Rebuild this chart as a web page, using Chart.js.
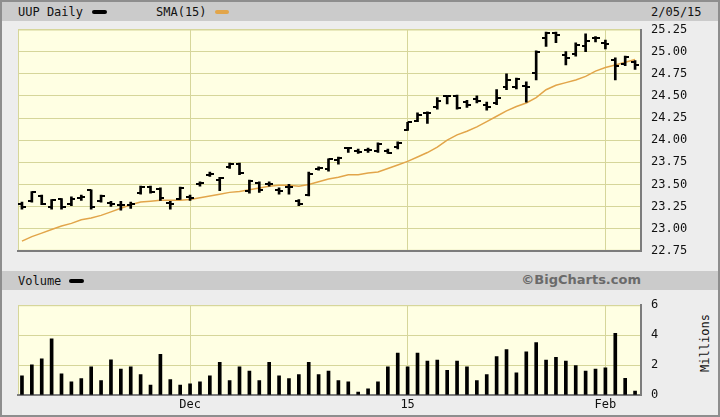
<!DOCTYPE html>
<html><head><meta charset="utf-8">
<script src="https://cdn.jsdelivr.net/npm/chart.js@4.4.1/dist/chart.umd.min.js"></script>
<style>
html,body{margin:0;padding:0;}
body{width:720px;height:417px;overflow:hidden;position:relative;background:#ededed;font-family:"DejaVu Sans Mono",monospace;font-size:12px;color:#111;}
#frame{position:absolute;left:0;top:0;width:716px;height:413px;border:2px solid #8e8e8e;}
.band{position:absolute;left:2px;width:716px;height:19px;background:#cbcbcb;}
.t{position:absolute;white-space:nowrap;line-height:14px;}
.sw{position:absolute;height:4px;border-radius:2px;}
canvas{position:absolute;left:0;}
</style></head>
<body>
<div id="frame"></div>
<div class="band" style="top:2px"></div>
<div class="band" style="top:271px"></div>
<div class="t" style="left:18px;top:5px">UUP Daily</div>
<div class="sw" style="left:92px;top:10px;width:15px;background:#000"></div>
<div class="t" style="left:156px;top:5px">SMA(15)</div>
<div class="sw" style="left:215px;top:10px;width:14px;background:#e2a54a"></div>
<div class="t" style="left:651px;top:5px">2/05/15</div>
<div class="t" style="left:18px;top:274px">Volume</div>
<div class="sw" style="left:69px;top:279px;width:15px;background:#000"></div>
<div class="t" style="right:79px;top:273px;font-family:'DejaVu Sans',sans-serif;font-weight:bold;font-size:13px;color:#6a6a6a">©BigCharts.com</div>
<div class="t" style="left:705px;top:343px;transform:translate(-50%,-50%) rotate(-90deg)">Millions</div>
<canvas id="price" width="720" height="268" style="top:0"></canvas>
<canvas id="vol" width="720" height="129" style="top:288px"></canvas>
<script>
const dates = ['11/05','11/06','11/07','11/10','11/11','11/12','11/13','11/14','11/17','11/18','11/19','11/20','11/21','11/24','11/25','11/26','11/28',
'12/01','12/02','12/03','12/04','12/05','12/08','12/09','12/10','12/11','12/12','12/15','12/16','12/17','12/18','12/19','12/22','12/23','12/24','12/26','12/29','12/30','12/31',
'01/02','01/05','01/06','01/07','01/08','01/09','01/12','01/13','01/14','01/15','01/16','01/20','01/21','01/22','01/23','01/26','01/27','01/28','01/29','01/30',
'02/02','02/03','02/04','02/05'];
const opens  = [23.28,23.31,23.37,23.25,23.33,23.28,23.35,23.44,23.31,23.29,23.27,23.27,23.40,23.47,23.45,23.29,23.34,
23.36,23.50,23.61,23.55,23.70,23.73,23.42,23.52,23.50,23.44,23.47,23.31,23.38,23.67,23.67,23.78,23.91,23.88,23.89,23.88,23.88,23.92,
24.12,24.22,24.31,24.37,24.50,24.50,24.43,24.46,24.40,24.42,24.60,24.60,24.61,24.76,25.15,25.21,24.96,24.97,25.06,25.15,
25.10,24.91,24.86,24.88];
const highs  = [23.30,23.42,23.38,23.33,23.34,23.36,23.38,23.44,23.38,23.31,23.31,23.30,23.48,23.48,23.46,23.31,23.47,
23.38,23.53,23.64,23.58,23.74,23.74,23.55,23.53,23.53,23.46,23.50,23.33,23.64,23.70,23.79,23.81,23.92,23.90,23.91,23.97,23.90,23.98,
24.20,24.31,24.32,24.48,24.50,24.51,24.45,24.50,24.43,24.57,24.75,24.70,24.66,25.01,25.22,25.22,25.00,25.10,25.20,25.17,
25.13,24.93,24.95,24.90];
const lows   = [23.22,23.30,23.27,23.22,23.22,23.26,23.32,23.22,23.30,23.25,23.21,23.23,23.39,23.40,23.32,23.22,23.33,
23.32,23.48,23.59,23.43,23.68,23.61,23.40,23.41,23.48,23.39,23.39,23.26,23.37,23.66,23.65,23.73,23.86,23.85,23.86,23.86,23.85,23.90,
24.11,24.21,24.19,24.35,24.41,24.35,24.37,24.42,24.34,24.40,24.57,24.58,24.43,24.68,25.06,25.10,24.85,24.95,25.00,25.11,
25.03,24.68,24.84,24.80];
const closes = [23.24,23.41,23.28,23.32,23.25,23.33,23.36,23.25,23.37,23.28,23.27,23.28,23.47,23.41,23.35,23.28,23.46,
23.35,23.52,23.62,23.57,23.73,23.63,23.54,23.44,23.51,23.42,23.47,23.28,23.62,23.68,23.79,23.80,23.91,23.87,23.89,23.96,23.86,23.97,
24.20,24.28,24.31,24.44,24.50,24.36,24.40,24.44,24.37,24.48,24.68,24.69,24.60,25.00,25.21,25.19,24.93,25.08,25.12,25.15,
25.09,24.84,24.94,24.85];
const sma15  = [22.86,22.91,22.95,22.99,23.03,23.06,23.10,23.12,23.15,23.19,23.23,23.27,23.30,23.31,23.32,23.32,23.32,
23.33,23.35,23.37,23.39,23.41,23.42,23.44,23.46,23.48,23.49,23.49,23.48,23.50,23.53,23.56,23.58,23.61,23.61,23.63,23.64,23.68,23.72,
23.76,23.81,23.86,23.92,24.00,24.06,24.10,24.15,24.21,24.27,24.33,24.38,24.42,24.48,24.57,24.62,24.65,24.68,24.72,24.78,
24.82,24.85,24.88,24.91];
const volume = [1.28,2.02,2.41,3.75,1.42,0.88,1.09,1.89,0.97,2.35,1.73,1.89,1.36,0.66,2.72,1.03,0.66,
0.74,0.88,1.28,2.18,0.97,1.89,1.59,0.97,2.18,1.28,1.09,1.36,2.18,1.36,1.59,0.97,0.88,0.20,0.41,0.88,1.89,2.80,
1.89,2.80,2.26,2.33,1.65,2.26,1.89,0.97,1.36,2.57,3.04,1.48,2.88,3.50,2.33,2.51,2.26,1.96,1.59,1.73,
1.81,4.12,1.11,0.27];
const xTickIndex  = [17, 39, 59];
const xTickLabels = ['Dec', '15', 'Feb'];

const GRID = '#d6d69a';
const BORDER = '#7c7c7c';
const FONT = {family:'DejaVu Sans Mono', size:12};

function tickImg(left){
  const c = document.createElement('canvas');
  c.width = 8; c.height = 2;
  const g = c.getContext('2d');
  g.fillStyle = '#000';
  g.fillRect(left ? 0 : 4, 0, 4, 2);
  return c;
}
const bgPlugin = {id:'bg', beforeDraw(c){
  const a=c.chartArea, ctx=c.ctx; ctx.save();
  ctx.fillStyle='#ffffe3'; ctx.fillRect(a.left,a.top,a.width,a.height);
  ctx.strokeStyle=GRID; ctx.lineWidth=1; ctx.strokeRect(a.left+0.5,a.top+0.5,a.width-1,a.height-1);
  ctx.restore();
}};
function xAxis(showLabels){
  return {
    type:'linear', min:-0.4, max:62.6, offset:false,
    afterBuildTicks:s=>{ s.ticks = xTickIndex.map(v=>({value:v})); },
    afterFit:s=>{ s.height = showLabels ? 18 : 0; },
    ticks:{display:showLabels, callback:(v,i)=>xTickLabels[i], font:FONT, color:'#111', padding:3, maxRotation:0, autoSkip:false},
    grid:{color:GRID, lineWidth:1, drawTicks:false, offset:false},
    border:{display:true, color:BORDER, width:2}
  };
}
const idx = dates.map((d,i)=>i);

new Chart(document.getElementById('price'), {
  data:{datasets:[
    {type:'bar', data:idx.map(i=>({x:i, y:[lows[i], highs[i]]})), backgroundColor:'#000', barThickness:2, order:1},
    {type:'line', data:idx.map(i=>({x:i, y:opens[i]})), showLine:false, pointStyle:tickImg(true), order:0},
    {type:'line', data:idx.map(i=>({x:i, y:closes[i]})), showLine:false, pointStyle:tickImg(false), order:0},
    {type:'line', data:idx.map(i=>({x:i, y:sma15[i]})), borderColor:'#e2a54a', borderWidth:1.5, pointRadius:0, tension:0, order:3}
  ]},
  options:{
    responsive:false, animation:false, events:[], devicePixelRatio:1,
    layout:{padding:{left:18, top:29.5, right:0, bottom:9.7}},
    plugins:{legend:{display:false}, tooltip:{enabled:false}},
    scales:{
      x:xAxis(false),
      y:{position:'right', min:22.75, max:25.25,
         afterFit:s=>{ s.width = 79; },
         ticks:{stepSize:0.25, callback:v=>v.toFixed(2), font:FONT, color:'#111', padding:10},
         grid:{color:GRID, lineWidth:1, drawTicks:false},
         border:{display:true, color:BORDER, width:2}}
    }
  },
  plugins:[bgPlugin]
});

new Chart(document.getElementById('vol'), {
  data:{datasets:[
    {type:'bar', data:idx.map(i=>({x:i, y:volume[i]})), backgroundColor:'#000', barThickness:3}
  ]},
  options:{
    responsive:false, animation:false, events:[], devicePixelRatio:1,
    layout:{padding:{left:18, top:9.5, right:0, bottom:4}},
    plugins:{legend:{display:false}, tooltip:{enabled:false}},
    scales:{
      x:xAxis(true),
      y:{position:'right', min:0, max:6,
         afterFit:s=>{ s.width = 79; },
         ticks:{stepSize:2, font:FONT, color:'#111', padding:10},
         grid:{color:GRID, lineWidth:1, drawTicks:false},
         border:{display:true, color:BORDER, width:2}}
    }
  },
  plugins:[bgPlugin]
});
</script>
</body></html>
